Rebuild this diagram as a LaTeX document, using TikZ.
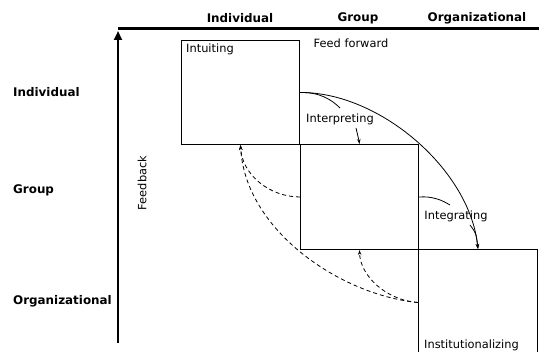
\documentclass[tikz,border=0pt]{standalone}
\usepackage{fontspec}
\setmainfont{DejaVu Sans}
\usetikzlibrary{arrows.meta}
\begin{document}
\begin{tikzpicture}[x=1pt,y=-1pt,
  every node/.style={font=\fontsize{11.4}{13}\selectfont, inner sep=0pt},
  head/.style={font=\fontsize{11.9}{14}\selectfont\bfseries},
  stage/.style={draw, line width=1pt, minimum width=118pt, anchor=north west},
  flow/.style={line width=0.8pt},
  tip/.style={-{Stealth[length=5pt,width=3.5pt]}},
  back/.style={line width=0.8pt, dash pattern=on 4pt off 3pt, -{Stealth[length=5pt,width=3.5pt]}}
]
\useasboundingbox (0,0) rectangle (539,352);
\clip (0,0) rectangle (539,352);

% axes
\coordinate (axtop) at (118,29);
\coordinate (axend) at (539,29);
\coordinate (axbot) at (118,343);
\draw[line width=3pt] (axtop) -- (axend);
\draw[line width=2.6pt, -{Triangle[length=9pt,width=8pt]}] (axbot) -- (118,31);

% column and row headings
\node[head] (cind) at (240,18) {Individual};
\node[head] (cgrp) at (358,18) {Group};
\node[head] (corg) at (477,18) {Organizational};
\node[head, anchor=west] (rind) at (13,92) {Individual};
\node[head, anchor=west] (rgrp) at (13,190) {Group};
\node[head, anchor=west] (rorg) at (13,301) {Organizational};
\node[rotate=90] (fb) at (142,183) {Feedback};
\node (ff) at (351,43) {Feed forward};

% the three stages
\node[stage, minimum height=104pt] (b1) at (181,40) {};
\node[stage, minimum height=105pt] (b2) at (300,144) {};
\node[stage, minimum width=119pt, minimum height=106pt] (b3) at (418,249) {};

\node[anchor=north west] (t1) at (186,44) {Intuiting};
\node (t2) at (340,119) {Interpreting};
\node (t3) at (456,216) {Integrating};
\node[anchor=west] (t4) at (424,345) {Institutionalizing};

% feed forward
\draw[flow, tip] (b1.east) .. controls (380,92) and (470,170) .. (b3.north);
\draw[flow] (b1.east) .. controls (320,92) and (332,100) .. (340,108);
\draw[flow, tip] (356,128) .. controls (358,134) .. (b2.north);
\draw[flow] (b2.east) .. controls (432,196) and (442,200) .. (450,205);
\draw[flow, tip] (470,225) .. controls (476,233) .. (b3.north);

% feedback
\draw[back] (b3.west) .. controls (340,295) and (245,230) .. (b1.south);
\draw[back] (b2.west) .. controls (270,197) and (242,175) .. (b1.south);
\draw[back] (b3.west) .. controls (385,300) and (360,275) .. (b2.south);
\end{tikzpicture}
\end{document}
